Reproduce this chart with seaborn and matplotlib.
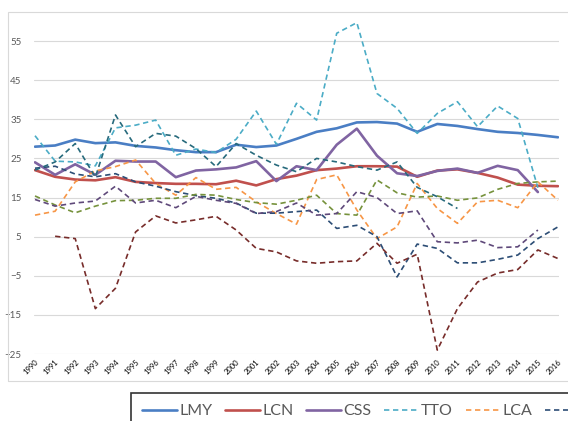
import numpy as np
import pandas as pd
import matplotlib
matplotlib.use("Agg")
import matplotlib.pyplot as plt
from matplotlib.patches import Rectangle
import seaborn as sns

nan = np.nan
years = list(range(1990, 2017))

# series
lmy = [28.0, 28.3, 29.8, 28.9, 29.1, 28.2, 27.8, 27.1, 26.6, 26.6, 28.5, 27.9, 28.3, 30.0,
       31.8, 32.7, 34.2, 34.3, 33.9, 31.8, 33.8, 33.3, 32.5, 31.8, 31.5, 31.0, 30.4]
lcn = [22.0, 20.3, 19.6, 19.4, 20.2, 19.0, 18.7, 18.5, 18.5, 18.4, 19.3, 18.1, 19.7, 20.6,
       22.0, 22.4, 23.0, 23.0, 22.9, 20.3, 21.9, 22.2, 21.3, 20.1, 18.3, 18.0, 17.9]
css = [24.0, 20.8, 23.5, 20.8, 24.4, 24.2, 24.2, 20.2, 21.9, 22.2, 22.7, 24.3, 19.2, 23.0,
       22.0, 28.5, 32.6, 25.7, 21.2, 20.5, 21.8, 22.4, 21.3, 23.1, 22.0, 16.4, nan]
tto = [30.8, 24.3, 24.1, 23.1, 32.8, 33.5, 34.8, 25.8, 27.4, 26.5, 29.9, 37.1, 28.6, 39.1,
       34.8, 57.0, 59.7, 41.6, 37.8, 31.4, 36.5, 39.5, 33.1, 38.4, 35.2, 17.5, nan]
lca = [10.5, 11.5, 19.0, 21.8, 22.9, 24.6, 18.6, 15.6, 20.1, 17.1, 17.6, 13.9, 10.9, 8.2,
       19.6, 20.8, 11.8, 4.5, 7.5, 18.6, 12.2, 8.4, 13.9, 14.3, 12.4, 19.0, 14.3]
jam = [22.5, 23.0, 21.0, 20.3, 21.1, 19.0, 17.9, 16.5, 15.5, 14.8, 13.6, 11.0, 11.0, 11.4,
       11.8, 7.1, 7.9, 5.0, -5.3, 3.1, 2.0, -1.7, -1.7, -0.8, 0.3, 4.5, 7.5]
brb = [nan, 5.1, 4.5, -13.4, -8.2, 6.2, 10.3, 8.5, 9.3, 10.2, 6.7, 2.0, 1.1, -1.2,
       -1.8, -1.4, -1.2, 3.3, -1.8, 0.5, -24.0, -13.4, -6.6, -4.3, -3.4, 1.6, -0.6]
blz = [15.4, 13.1, 11.1, 12.8, 14.2, 14.3, 14.8, 14.8, 15.8, 15.6, 14.5, 13.7, 13.3, 14.3,
       15.6, 10.9, 10.5, 19.5, 16.2, 15.1, 15.4, 14.3, 14.9, 17.1, 18.6, 19.0, 19.2]
guy = [14.5, 12.8, 13.6, 14.1, 17.9, 13.6, 14.3, 12.4, 15.3, 14.3, 13.5, 10.9, 11.4, 13.6,
       10.5, 10.9, 16.5, 15.0, 10.9, 11.6, 3.7, 3.4, 4.1, 2.2, 2.4, 6.7, nan]
bhs = [22.0, 24.1, 28.8, 20.2, 36.1, 28.0, 31.4, 30.7, 27.5, 22.9, 28.8, 25.8, 23.3, 21.6,
       25.0, 24.1, 22.9, 22.0, 24.1, 17.6, 15.2, 12.2, nan, nan, nan, nan, nan]

series = [
    ("LMY", lmy, "#4A7EC4", "-", 1.9),
    ("LCN", lcn, "#C0504D", "-", 1.9),
    ("CSS", css, "#8064A2", "-", 1.9),
    ("TTO", tto, "#4BACC6", "--", 1.2),
    ("LCA", lca, "#F79646", "--", 1.2),
    ("JAM", jam, "#2C4D75", "--", 1.2),
    ("BRB", brb, "#772C2A", "--", 1.2),
    ("BLZ", blz, "#76923C", "--", 1.2),
    ("GUY", guy, "#5F497A", "--", 1.2),
    ("BHS", bhs, "#276A7C", "--", 1.2),
]

sns.set_style("white")
plt.rcParams["font.family"] = ["Lato", "DejaVu Sans"]

fig = plt.figure(figsize=(5.68, 4.21), dpi=100)
# outer chart border
fig.patches.append(Rectangle((8 / 568, 1 - 381 / 421), 0.99, 369 / 421, transform=fig.transFigure,
                             fill=False, edgecolor="#D9D9D9", linewidth=0.8))
ax = fig.add_axes([34 / 568, 1 - 354 / 421, 525 / 568, 332.5 / 421])

for name, vals, col, ls, lw in series:
    d = pd.DataFrame({"year": years, "v": vals}).dropna()
    sns.lineplot(data=d, x="year", y="v", color=col, linewidth=lw, label=name, ax=ax)
    if ls == "--":
        ax.lines[-1].set_dashes((3.2, 2.2))

ax.set_xlim(1989.95, 2016.05)
ax.set_ylim(-25, 60)
ax.set_yticks(range(-25, 56, 10))
ax.set_xticks(years)
ax.set_xticklabels([str(y) for y in years], rotation=45, ha="right", rotation_mode="anchor",
                   fontsize=5.5, color="black")
ax.tick_params(axis="y", labelsize=7, colors="#595959", length=0, pad=9)
ax.tick_params(axis="x", length=0, pad=3)
ax.yaxis.grid(True, color="#D9D9D9", linewidth=0.8)
ax.set_axisbelow(True)
for s in ax.spines.values():
    s.set_visible(False)
ax.set_xlabel("")
ax.set_ylabel("")

# only the first six entries fit on the figure, the rest of the legend runs off the edge
h, l = ax.get_legend_handles_labels()
h = h[:6]
l = l[:5] + [""]
leg = ax.legend(h, l, ncol=len(l), loc="upper left", bbox_to_anchor=(131 / 568, 1 - 393 / 421),
                bbox_transform=fig.transFigure, borderaxespad=0, frameon=True, fancybox=False,
                fontsize=11.5, handlelength=2.2, handletextpad=0.12, columnspacing=0.8,
                borderpad=0.7, labelcolor="#595959")
leg.get_frame().set_edgecolor("black")
leg.get_frame().set_linewidth(1.2)

fig.savefig("out.png", dpi=100)
